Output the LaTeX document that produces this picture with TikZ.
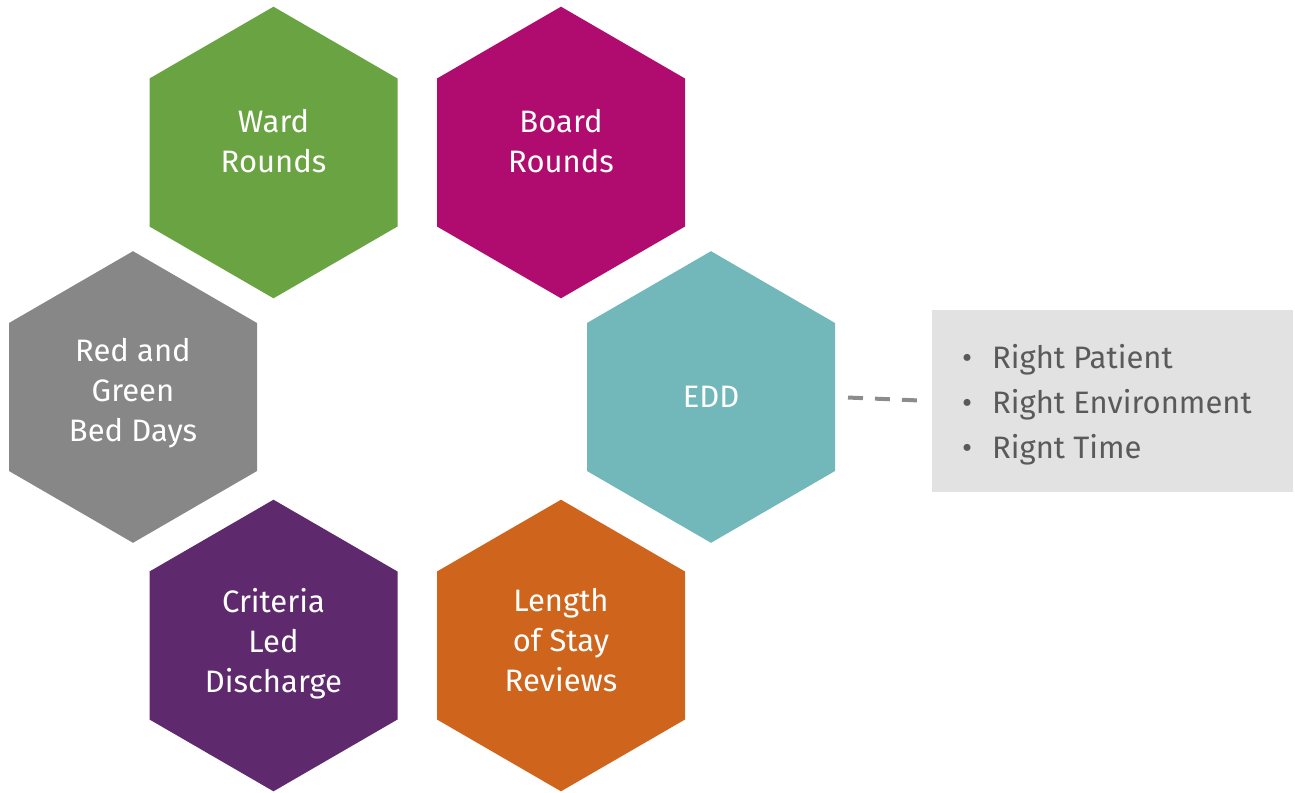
\documentclass[tikz,border=0pt]{standalone}
\usepackage{fontspec}
\setmainfont{Fira Sans}
\definecolor{hgreen}{HTML}{6AA342}
\definecolor{hmagenta}{HTML}{B00B6F}
\definecolor{hgray}{HTML}{878787}
\definecolor{hteal}{HTML}{72B7BA}
\definecolor{hpurple}{HTML}{5F296E}
\definecolor{horange}{HTML}{CF641C}
\definecolor{boxgray}{HTML}{E2E2E2}
\definecolor{textgray}{HTML}{5A5A5A}
\definecolor{dashgray}{HTML}{8C8C8C}
\begin{document}
\begin{tikzpicture}[x=1pt,y=-1pt,
  hexa/.style={minimum width=248pt, minimum height=291.6pt, inner sep=0pt, outer sep=0pt,
    path picture={\fill[#1] (path picture bounding box.north)
      -- ([yshift=74pt]path picture bounding box.east)
      -- ([yshift=-74pt]path picture bounding box.east)
      -- (path picture bounding box.south)
      -- ([yshift=-74pt]path picture bounding box.west)
      -- ([yshift=74pt]path picture bounding box.west) -- cycle;}},
  hextext/.style={text=white, align=center, inner sep=0pt, font=\fontsize{31}{40}\selectfont},
  listbox/.style={fill=boxgray, minimum width=361pt, minimum height=182pt, inner sep=0pt, outer sep=0pt},
  listtext/.style={text=textgray, align=left, inner sep=0pt, font=\fontsize{31}{45}\selectfont},
  dashline/.style={draw=dashgray, line width=4pt, dash pattern=on 15pt off 12pt,
    shorten <=13pt, shorten >=14pt}]
\useasboundingbox (0,0) rectangle (1295,792);

\node[hexa=hgreen]   (ward)     at (273.5,152.5) {};
\node[hexa=hmagenta] (board)    at (561,152.5)   {};
\node[hexa=hgray]    (redgreen) at (133,397)     {};
\node[hexa=hteal]    (edd)      at (711,397)     {};
\node[hexa=hpurple]  (criteria) at (273.5,645.5) {};
\node[hexa=horange]  (los)      at (561,645.5)   {};

\node[hextext] (wardt)     at (273.5,141.5) {Ward\\Rounds};
\node[hextext] (boardt)    at (561,141.5)   {Board\\Rounds};
\node[hextext] (redgreent) at (133,393.5)   {Red and\\Green\\Bed Days};
\node[hextext] (eddt)      at (711,397)     {EDD};
\node[hextext] (criteriat) at (273.5,643.5) {Criteria\\Led\\Discharge};
\node[hextext] (lost)      at (561,640)     {Length\\of Stay\\Reviews};

\node[listbox] (box) at (1112.5,401) {};
\node[listtext, anchor=west] (list) at (962,405) {\makebox[30pt][l]{\textbullet}Right Patient\\
\makebox[30pt][l]{\textbullet}Right Environment\\
\makebox[30pt][l]{\textbullet}Rignt Time};

\draw[dashline] (edd.east) -- (box.west);
\end{tikzpicture}
\end{document}
